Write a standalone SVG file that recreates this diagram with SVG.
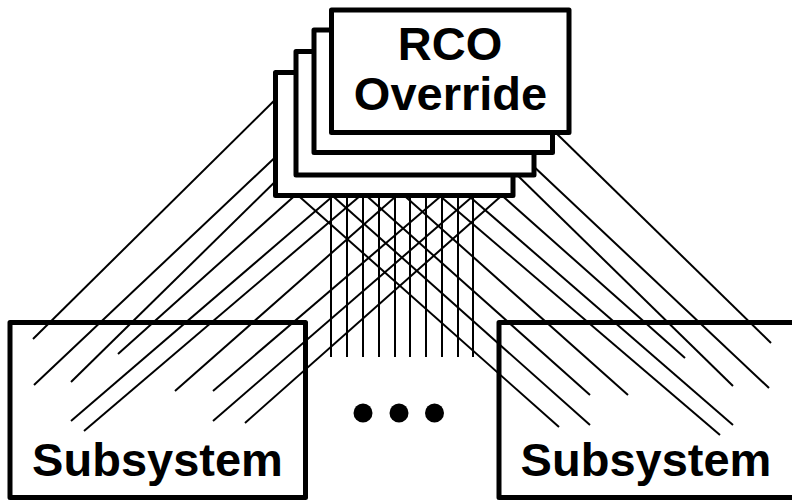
<svg xmlns="http://www.w3.org/2000/svg" width="792" height="501" viewBox="0 0 792 501">
<style>
.ln{stroke:#000;stroke-width:2;fill:none}
.box{stroke:#000;stroke-width:5;fill:#fff;stroke-linejoin:round}
.sub{stroke:#000;stroke-width:5;fill:none;stroke-linejoin:round}
.t{font-family:"Liberation Sans",Arial,sans-serif;font-weight:bold;font-size:47px;text-anchor:middle;fill:#000}
</style>
<rect width="792" height="501" fill="#fff"/>
<g id="connectors">
<!-- left group -->
<line class="ln" x1="290" y1="85" x2="33" y2="339"/>
<line class="ln" x1="285" y1="148" x2="34" y2="385"/>
<line class="ln" x1="285" y1="172" x2="71" y2="382"/>
<line class="ln" x1="300" y1="191" x2="118" y2="354"/>
<line class="ln" x1="340" y1="190" x2="71" y2="421"/>
<line class="ln" x1="367" y1="190" x2="84" y2="431"/>
<line class="ln" x1="403" y1="190" x2="175" y2="391"/>
<line class="ln" x1="448" y1="190" x2="213" y2="391"/>
<line class="ln" x1="480" y1="190" x2="213" y2="421"/>
<line class="ln" x1="508" y1="190" x2="245" y2="423"/>
<!-- right group -->
<line class="ln" x1="555" y1="132" x2="771" y2="343"/>
<line class="ln" x1="530" y1="163" x2="769" y2="388"/>
<line class="ln" x1="512" y1="170" x2="733" y2="386"/>
<line class="ln" x1="498" y1="192" x2="685" y2="358"/>
<line class="ln" x1="462" y1="190" x2="733" y2="425"/>
<line class="ln" x1="433" y1="190" x2="720" y2="435"/>
<line class="ln" x1="398" y1="190" x2="628" y2="395"/>
<line class="ln" x1="360" y1="190" x2="590" y2="395"/>
<line class="ln" x1="326" y1="190" x2="590" y2="425"/>
<line class="ln" x1="292" y1="190" x2="559" y2="427"/>
<!-- vertical bus -->
<line class="ln" x1="331" y1="190" x2="331" y2="357"/>
<line class="ln" x1="347" y1="190" x2="347" y2="357"/>
<line class="ln" x1="363" y1="190" x2="363" y2="357"/>
<line class="ln" x1="379" y1="190" x2="379" y2="357"/>
<line class="ln" x1="395" y1="190" x2="395" y2="357"/>
<line class="ln" x1="410" y1="190" x2="410" y2="357"/>
<line class="ln" x1="426" y1="190" x2="426" y2="357"/>
<line class="ln" x1="442" y1="190" x2="442" y2="357"/>
<line class="ln" x1="458" y1="190" x2="458" y2="357"/>
<line class="ln" x1="473" y1="190" x2="473" y2="357"/>
</g>
<g id="rco-stack">
<rect class="box" x="275.5" y="72.5" width="237.5" height="123"/>
<rect class="box" x="296" y="51.5" width="238" height="123.5"/>
<rect class="box" x="314" y="30" width="238.5" height="122.5"/>
<rect class="box" x="331.5" y="10" width="237.5" height="122.5"/>
<text class="t" x="450" y="60">RCO</text>
<text class="t" x="450.5" y="110">Override</text>
</g>
<g id="subsystem-left">
<rect class="sub" x="10" y="322.5" width="295.5" height="175"/>
<text class="t" x="157.5" y="476">Subsystem</text>
</g>
<g id="subsystem-right">
<rect class="sub" x="499" y="322.5" width="296" height="175"/>
<text class="t" x="646" y="476">Subsystem</text>
</g>
<g id="ellipsis">
<circle cx="363" cy="413" r="9.5"/>
<circle cx="399" cy="413" r="9.5"/>
<circle cx="434.5" cy="413" r="9.5"/>
</g>
</svg>
